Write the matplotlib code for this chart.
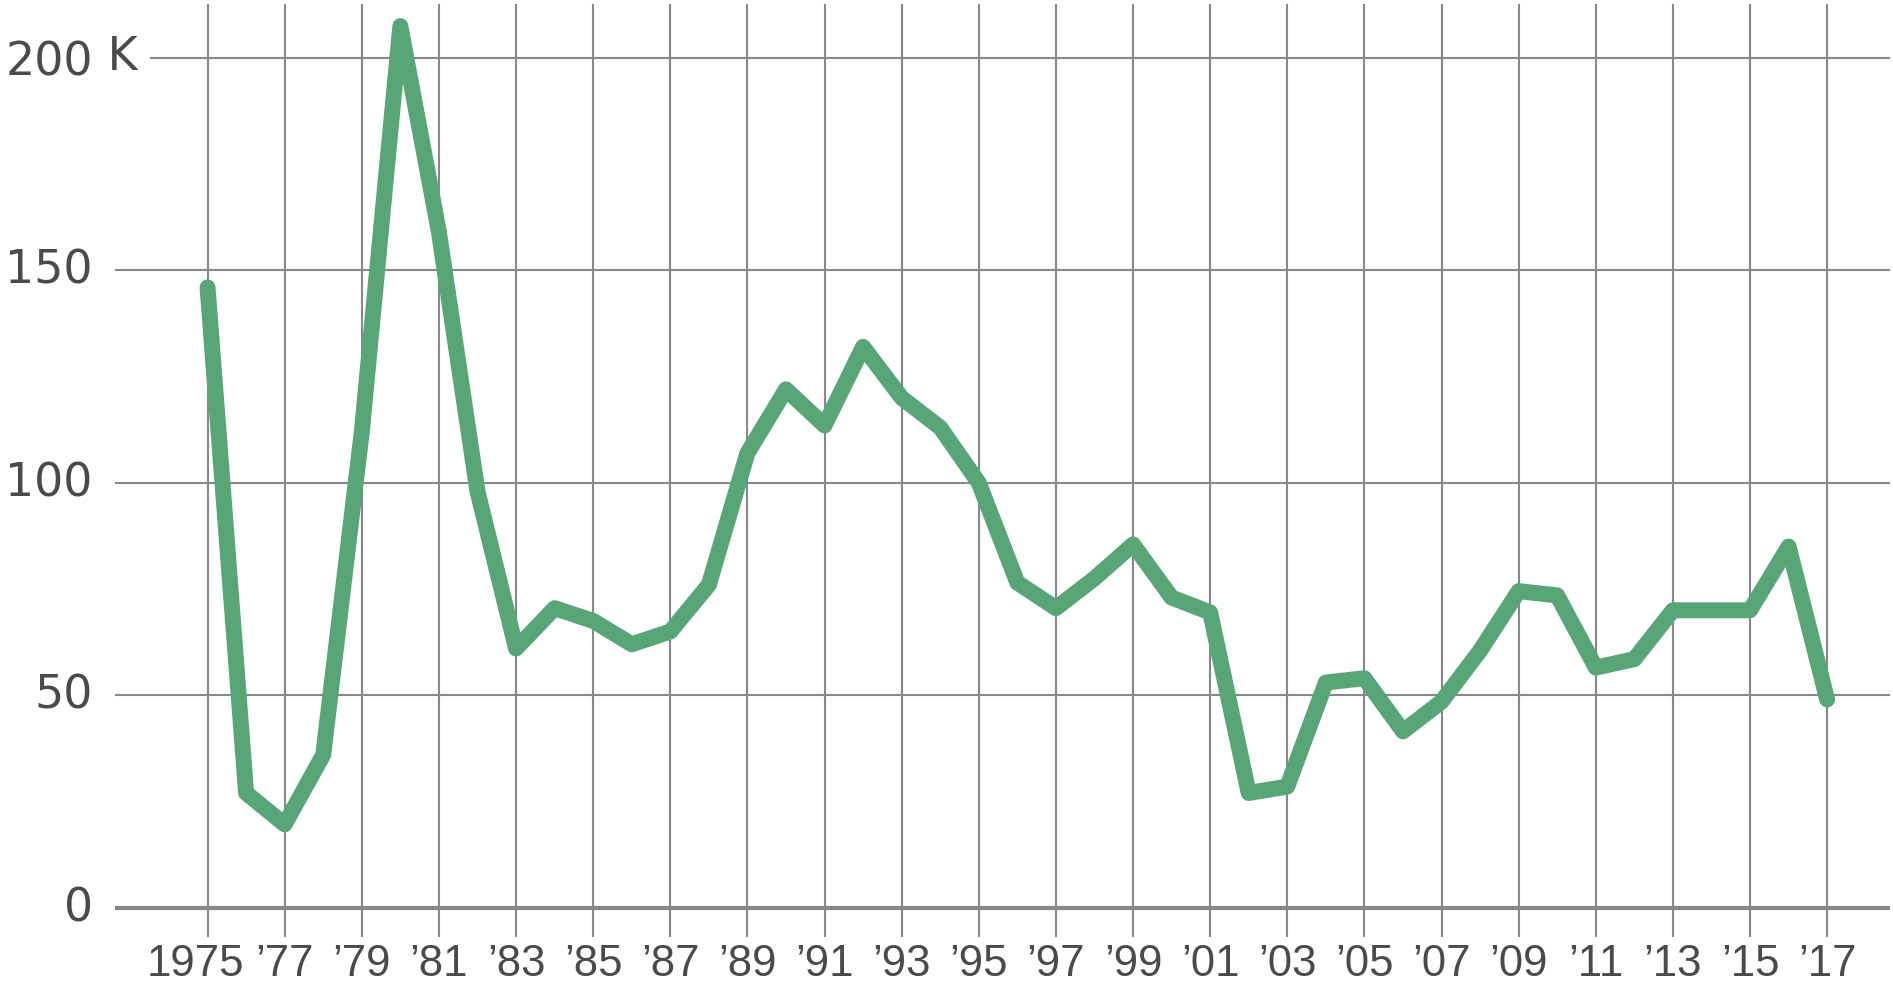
import numpy as np
import matplotlib
matplotlib.use('Agg')
import matplotlib.pyplot as plt
import matplotlib.transforms as mtransforms

# Data (thousands)
years = list(range(1975, 2018))
values = [146, 27, 19.6, 36, 112, 207.5, 159, 98, 61, 70.5, 67.5, 62, 65, 76, 107,
          122, 113.5, 132, 120, 113, 100, 76.5, 70.5, 77.5, 85.5, 73, 69.5, 27, 28.5,
          53, 54, 41.5, 48.5, 60.5, 74.5, 73.5, 56.5, 58.5, 70, 70, 70, 85, 49]
tick_years = list(range(1975, 2018, 2))
tick_labels = ['1975'] + ['\u2019%02d' % (y % 100) for y in tick_years[1:]]
y_ticks = [0, 50, 100, 150, 200]
y_labels = ['0', '50', '100', '150', '200']

line_color = '#58a578'
grid_color = '#888888'
text_color = '#4a4a4a'

W, H = 1893, 986
fig = plt.figure(figsize=(W / 100, H / 100), dpi=100)
ax = fig.add_axes([115 / W, 1 - 937 / H, (1890 - 115) / W, (937 - 4) / H])

ax.set_xlim(1972.6, 2018.63)
ax.set_ylim(-6.9, 212.7)

for s in ax.spines.values():
    s.set_visible(False)

# vertical grid
for y in tick_years:
    ax.axvline(y, color=grid_color, lw=1.5, zorder=1)
# horizontal grid
for v in y_ticks[1:-1]:
    ax.axhline(v, color=grid_color, lw=1.5, zorder=1)
ax.axhline(200, xmin=(151 - 115) / (1890 - 115), color=grid_color, lw=1.5, zorder=1)
ax.axhline(0, color=grid_color, lw=3, zorder=1)

ax.plot(years, values, color=line_color, lw=11.5, solid_capstyle='round',
        solid_joinstyle='round', zorder=3)

ax.set_xticks([])
ax.set_yticks(y_ticks)
ax.set_yticklabels(y_labels, family='DejaVu Sans', fontsize=33, color=text_color)
ax.tick_params(axis='both', length=0)
ax.tick_params(axis='y', pad=16)

for i, lab in enumerate(ax.get_yticklabels()):
    if i < 4:
        lab.set_transform(lab.get_transform() + mtransforms.ScaledTranslation(0, 4 / 100, fig.dpi_scale_trans))

# x labels: baseline near the bottom edge
xtr = mtransforms.blended_transform_factory(ax.transData, fig.transFigure)
for yr, lab in zip(tick_years, tick_labels):
    t = ax.text(yr, 1 - 976 / H, lab, transform=xtr, ha='center', va='baseline',
                family='Liberation Sans', fontsize=31.5, color=text_color)
    if yr == 1975:
        t.set_transform(xtr + mtransforms.ScaledTranslation(-12 / 100, 0, fig.dpi_scale_trans))

ax.text(93 / W, 200, ' K', transform=mtransforms.blended_transform_factory(fig.transFigure, ax.transData),
        ha='left', va='center', fontsize=33, family='DejaVu Sans', color=text_color)

fig.savefig('out.png', dpi=100)
